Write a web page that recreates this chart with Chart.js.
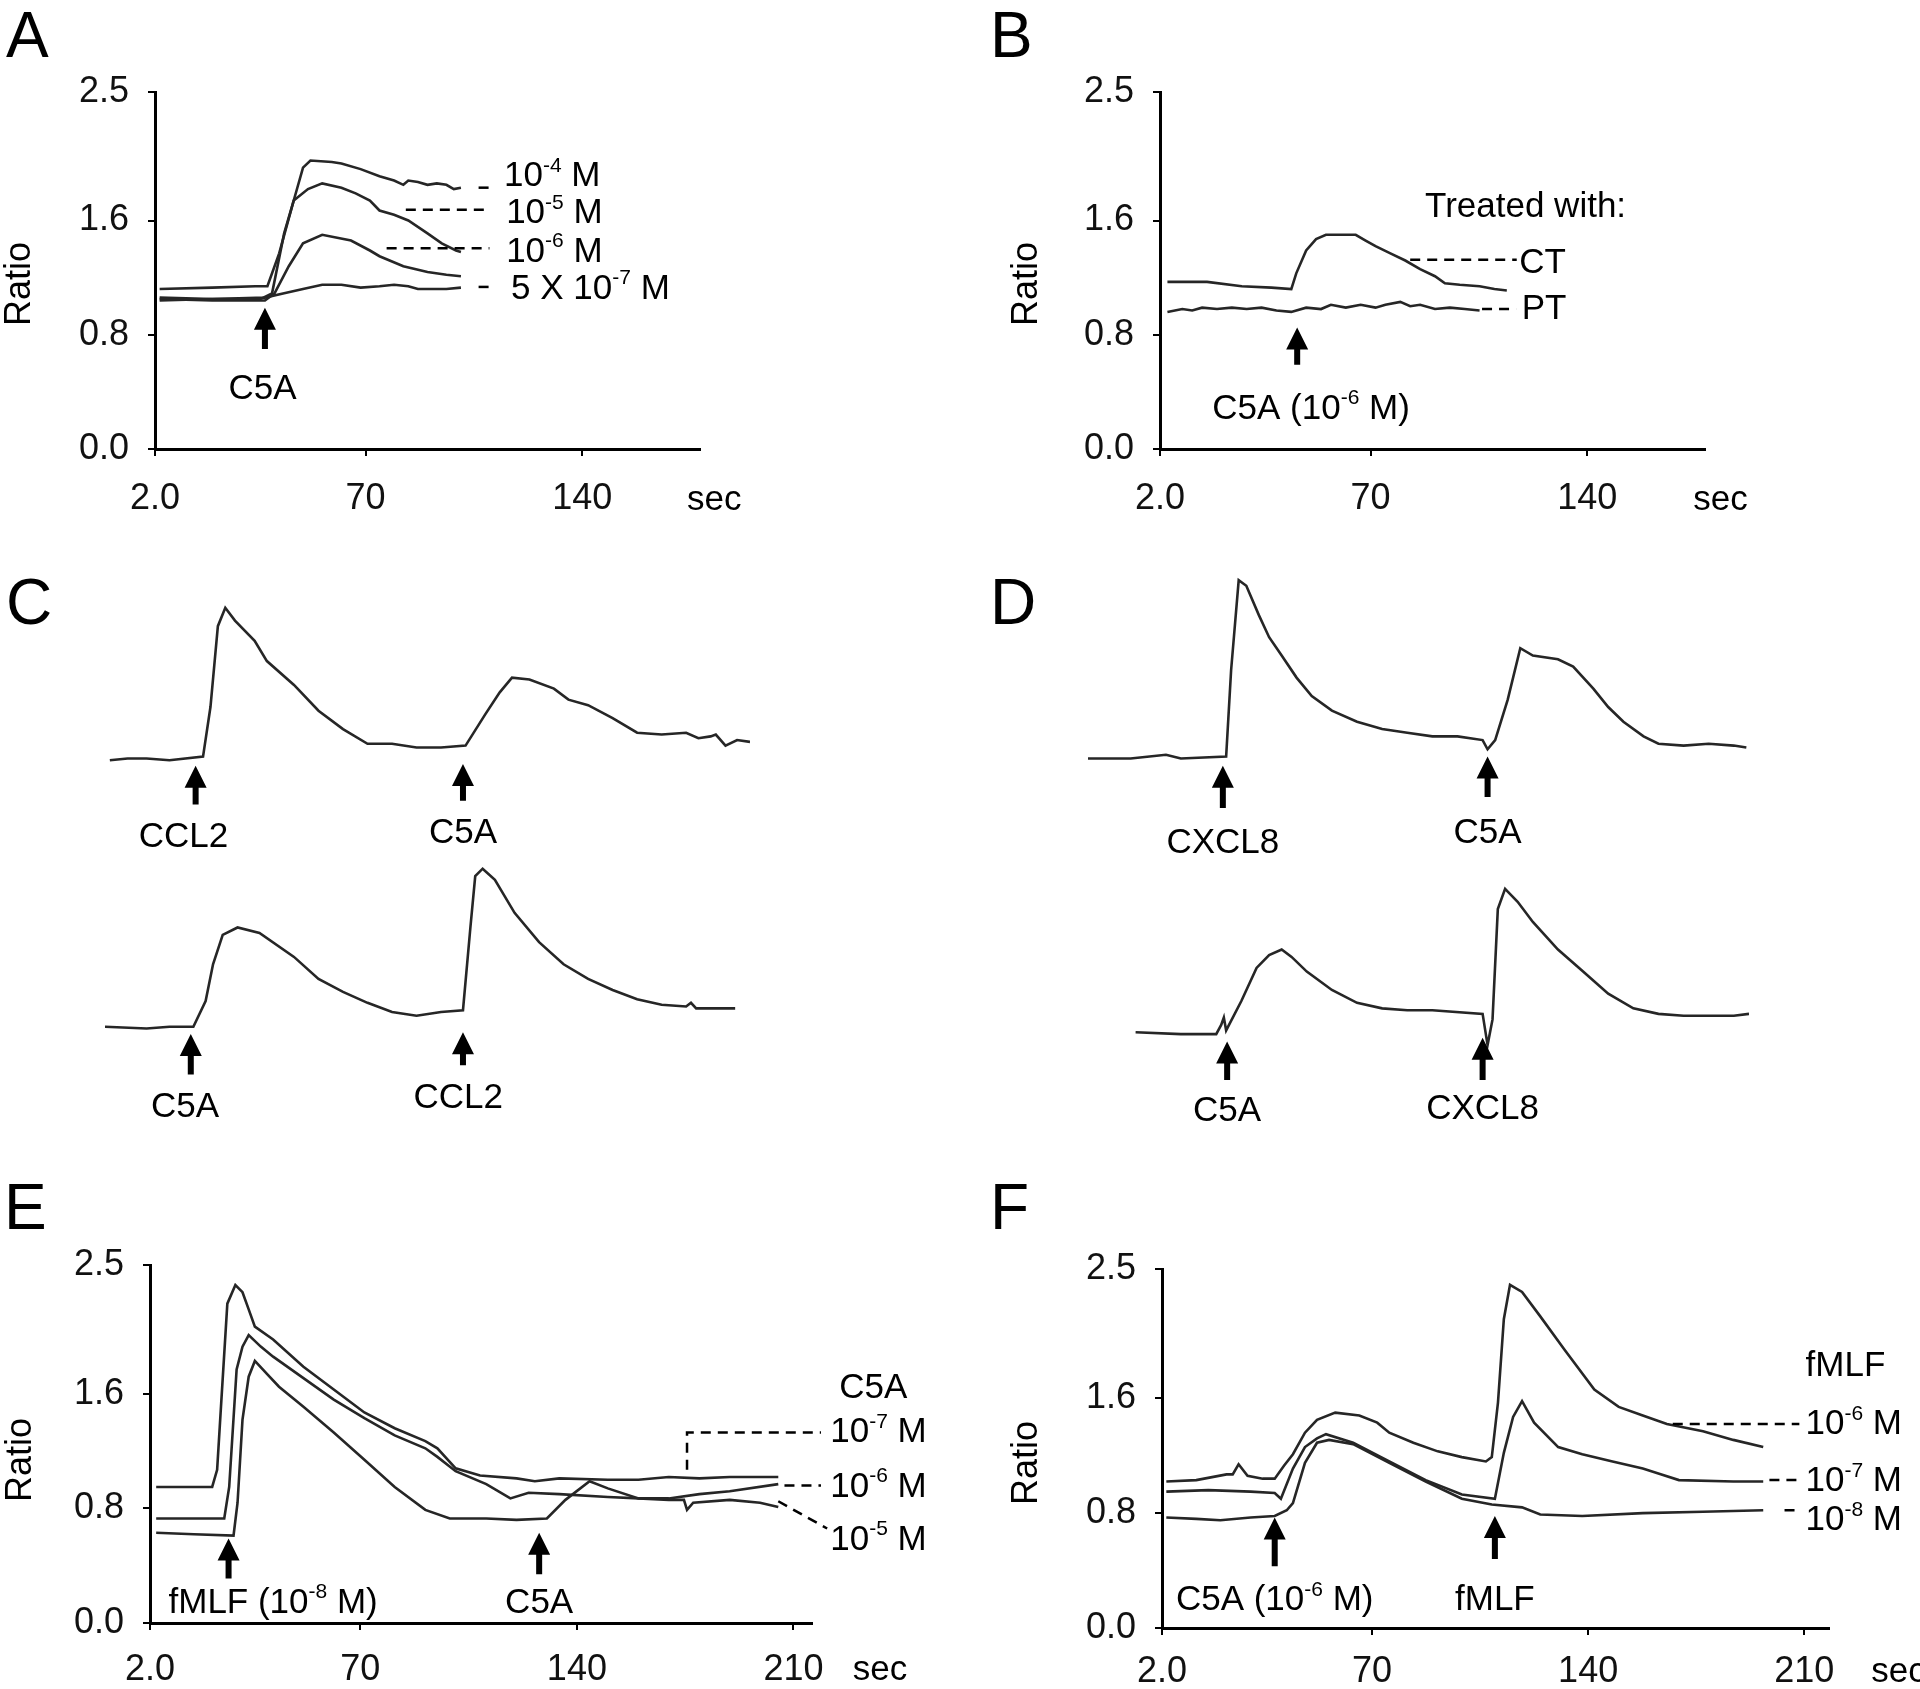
<!DOCTYPE html>
<html>
<head>
<meta charset="utf-8">
<script src="https://cdn.jsdelivr.net/npm/chart.js@4.4.1/dist/chart.umd.min.js"></script>
<style>
  html, body { margin: 0; padding: 0; background: #fff; }
  body { width: 1920px; height: 1689px; position: relative; overflow: hidden; }
  canvas { position: absolute; }
</style>
</head>
<body>
<canvas id="pA"></canvas>
<canvas id="pB"></canvas>
<canvas id="pC"></canvas>
<canvas id="pD"></canvas>
<canvas id="pE"></canvas>
<canvas id="pF"></canvas>
<script>
// ---- data: [time (sec), ratio] ----

// Panel A: C5A dose response
const A_1e4 = [[3.5,1.12],[20.5,1.13],[34.4,1.14],[38.3,1.14],[42.1,1.37],[46.8,1.74],[49.8,1.97],[52.2,2.02],[59.1,2.01],[62.2,2.00],[68.4,1.96],[74.5,1.91],[79.2,1.88],[82.2,1.85],[83.8,1.88],[86.9,1.87],[90,1.85],[93,1.86],[96.1,1.85],[98.5,1.82],[100.8,1.83]];
const A_1e5 = [[3.5,1.04],[20.5,1.05],[36,1.05],[39.8,1.09],[43.7,1.51],[46.8,1.74],[51.4,1.82],[56,1.86],[62.2,1.83],[66.8,1.79],[71.4,1.74],[74.5,1.67],[79.2,1.64],[83.8,1.6],[90,1.51],[94.6,1.44],[99.2,1.39],[100.8,1.38]];
const A_1e6 = [[3.5,1.05],[20.5,1.04],[37.5,1.04],[40.6,1.09],[45.2,1.28],[49.8,1.44],[56,1.5],[65.3,1.46],[71.4,1.39],[74.5,1.35],[82.2,1.28],[90,1.24],[96.1,1.22],[100.8,1.21]];
const A_5e7 = [[3.5,1.06],[20.5,1.05],[37.5,1.06],[43.7,1.09],[49.8,1.12],[56,1.15],[62.2,1.15],[68.4,1.13],[74.5,1.14],[79.2,1.15],[83.8,1.14],[86.9,1.12],[96.1,1.12],[100.8,1.13]];

// Panel B: CT vs PT treated cells, C5A 10^-6 M
const B_CT = [[4.4,1.17],[17.2,1.17],[28.4,1.14],[38,1.13],[44.4,1.12],[46,1.23],[49.2,1.39],[52.4,1.47],[55.6,1.5],[60.4,1.5],[65.2,1.5],[68.4,1.46],[71.6,1.42],[76.4,1.37],[81.2,1.32],[86,1.26],[90.8,1.21],[94,1.16],[98.8,1.15],[105.2,1.14],[110,1.12],[114,1.11]];
const B_PT = [[4.4,0.96],[9.2,0.98],[12.4,0.97],[15.6,0.99],[20.4,0.98],[25.2,0.99],[30,0.98],[34.8,0.99],[39.6,0.97],[44.4,0.96],[49.2,0.99],[54,0.98],[57.2,1.01],[62,0.99],[66.8,1.01],[71.6,0.99],[74.8,1.01],[79.6,1.03],[82.8,1.0],[86,1.01],[90.8,0.98],[95.6,0.99],[100.4,0.98],[105.2,0.97]];

// Panel C: CCL2 then C5A (top), C5A then CCL2 (bottom), arbitrary offset units
const C_top = [[1.5,2.11],[7,2.12],[12.9,2.12],[20,2.11],[30.4,2.13],[32.7,2.4],[35,2.84],[37.3,2.94],[40.3,2.87],[46.4,2.76],[50.2,2.65],[58.6,2.52],[66.2,2.38],[73.8,2.28],[81.4,2.2],[89,2.2],[96.6,2.18],[104.2,2.18],[111.8,2.19],[117.9,2.36],[122.4,2.48],[126.2,2.56],[131.6,2.55],[139.2,2.5],[143.7,2.44],[149.8,2.41],[157.4,2.34],[165,2.26],[172.6,2.25],[180.2,2.26],[184,2.23],[187.8,2.24],[189.4,2.25],[192.4,2.19],[196,2.22],[200,2.21]];
const C_bottom = [[0,0.66],[12.9,0.65],[20,0.66],[27.4,0.66],[31.2,0.8],[33.5,1.0],[36.5,1.16],[41.1,1.2],[47.9,1.17],[58.6,1.04],[66.2,0.92],[73.8,0.85],[81.4,0.79],[89,0.74],[96.6,0.72],[104.2,0.74],[111,0.75],[113.3,1.2],[114.8,1.48],[117.1,1.52],[120.9,1.46],[127,1.28],[134.6,1.12],[142.2,1.0],[149.8,0.92],[157.4,0.86],[165,0.81],[172.6,0.78],[180.2,0.77],[181.7,0.79],[183.3,0.76],[195.4,0.76]];

// Panel D: CXCL8 then C5A (top), C5A then CXCL8 (bottom)
const D_top = [[0,2.12],[12.9,2.12],[23.6,2.14],[28.1,2.12],[41.8,2.13],[43.3,2.6],[45.6,3.09],[47.9,3.06],[51.7,2.9],[54.8,2.78],[58.6,2.68],[63.1,2.56],[67.7,2.46],[73.8,2.38],[81.4,2.32],[89,2.28],[96.6,2.26],[104.2,2.24],[111.8,2.24],[119.4,2.22],[120.9,2.17],[123.2,2.22],[127,2.44],[130.8,2.72],[134.6,2.68],[142.2,2.66],[146.8,2.62],[152.9,2.5],[157.4,2.4],[162,2.32],[168.1,2.24],[172.6,2.2],[180.2,2.19],[187.8,2.2],[195.4,2.19],[199.2,2.18]];
const D_bottom = [[14.4,0.63],[28.1,0.62],[38.8,0.62],[40.3,0.67],[41.1,0.71],[41.8,0.64],[46.4,0.8],[51,0.98],[54.8,1.05],[58.6,1.08],[61.6,1.04],[66.2,0.96],[73.8,0.86],[81.4,0.79],[89,0.76],[96.6,0.75],[104.2,0.75],[119.4,0.73],[120.9,0.56],[122.4,0.7],[124,1.3],[126.2,1.41],[130,1.34],[134.6,1.23],[142.2,1.08],[149.8,0.96],[157.4,0.84],[165,0.76],[172.6,0.73],[180.2,0.72],[187.8,0.72],[195.4,0.72],[200,0.73]];

// Panel E: fMLF (10^-8 M) then C5A at three doses
const E_1e7 = [[4,0.95],[12.2,0.95],[22.1,0.95],[23.7,1.07],[25,1.53],[27,2.23],[29.6,2.36],[31.9,2.31],[33.9,2.19],[35.9,2.07],[41.8,1.98],[51.6,1.79],[61.4,1.63],[71.3,1.47],[81.1,1.36],[91,1.27],[94.9,1.22],[100.8,1.08],[108.7,1.03],[120.5,1.01],[126.4,0.99],[134.3,1.01],[150,1.0],[159.9,1.0],[169.7,1.02],[179.6,1.01],[189.4,1.02],[205.1,1.02]];
const E_1e6 = [[4,0.73],[12.2,0.73],[26,0.73],[27.6,0.95],[30,1.77],[31.9,1.93],[33.9,2.01],[37.8,1.93],[41.8,1.86],[51.6,1.71],[61.4,1.56],[71.3,1.43],[81.1,1.31],[91,1.22],[94.9,1.16],[100.8,1.06],[110.7,0.97],[118.5,0.87],[124.4,0.91],[134.3,0.9],[150,0.88],[159.9,0.87],[169.7,0.87],[179.6,0.9],[189.4,0.92],[205.1,0.97]];
const E_1e5 = [[4,0.63],[16.2,0.62],[29,0.61],[30.3,0.84],[31.9,1.42],[33.9,1.72],[35.9,1.83],[39.8,1.74],[43.7,1.65],[51.6,1.51],[61.4,1.33],[71.3,1.14],[81.1,0.95],[91,0.79],[98.9,0.73],[110.7,0.73],[120.5,0.72],[130.3,0.73],[136.3,0.86],[144.1,0.99],[150,0.94],[159.9,0.87],[169.7,0.86],[174.6,0.86],[175.6,0.79],[177.6,0.84],[189.4,0.86],[199.2,0.84],[205.1,0.81]];

// Panel F: C5A (10^-6 M) then fMLF at three doses
const F_1e6 = [[3.4,1.02],[13.1,1.03],[22.9,1.07],[24.9,1.07],[26.8,1.14],[29.7,1.06],[34.6,1.04],[38.5,1.04],[41.5,1.13],[44.4,1.21],[48.3,1.36],[52.2,1.45],[58.1,1.5],[65.9,1.48],[71.7,1.43],[75.6,1.36],[83.4,1.29],[91.3,1.23],[99.1,1.19],[106.9,1.16],[108.8,1.19],[110.8,1.57],[112.7,2.15],[114.7,2.39],[118.6,2.34],[124.5,2.17],[132.3,1.94],[142,1.66],[149.9,1.54],[157.7,1.48],[165.5,1.42],[177.2,1.37],[187,1.31],[196.7,1.26]];
const F_1e7 = [[3.4,0.95],[17,0.96],[30.7,0.95],[38.5,0.94],[40.5,0.9],[44.4,1.11],[48.3,1.26],[52.2,1.32],[55.1,1.35],[63.9,1.29],[75.6,1.16],[87.4,1.03],[99.1,0.93],[109.8,0.9],[112.7,1.22],[115.7,1.47],[118.6,1.58],[122.5,1.43],[130.3,1.26],[138.1,1.21],[147.9,1.16],[157.7,1.11],[163.5,1.07],[169.4,1.03],[187,1.02],[196.7,1.02]];
const F_1e8 = [[3.4,0.77],[13.1,0.76],[20.9,0.75],[30.7,0.77],[38.5,0.78],[42.4,0.82],[44.4,0.87],[48.3,1.15],[52.2,1.29],[56.1,1.31],[63.9,1.28],[75.6,1.15],[87.4,1.02],[99.1,0.9],[108.8,0.86],[118.6,0.84],[124.5,0.79],[138.1,0.78],[157.7,0.8],[177.2,0.81],[196.7,0.82]];

// axis ticks
const ratioTicks = [0, 0.8, 1.6, 2.5];
const secTicksShort = [2, 70, 140];
const secTicksLong = [2, 70, 140, 210];

// ---- drawing helpers ----
const SANS = "'Liberation Sans', Arial, Helvetica, sans-serif";
const INK = '#000';
const TRACE = '#262626';

function drawRich(ctx, text, x, y, align, size) {
  const parts = [];
  const re = /\^\{([^}]*)\}/g;
  let last = 0, m;
  while ((m = re.exec(text))) {
    if (m.index > last) parts.push([text.slice(last, m.index), 0]);
    parts.push([m[1], 1]);
    last = re.lastIndex;
  }
  if (last < text.length) parts.push([text.slice(last), 0]);
  const fontFor = s => (s ? Math.round(size * 0.6) : size) + 'px ' + SANS;
  let w = 0;
  parts.forEach(p => { ctx.font = fontFor(p[1]); p.push(ctx.measureText(p[0]).width); w += p[2]; });
  let cx = align === 'center' ? x - w / 2 : x;
  ctx.textAlign = 'left';
  ctx.textBaseline = 'middle';
  parts.forEach(p => {
    ctx.font = fontFor(p[1]);
    ctx.fillText(p[0], cx, p[1] ? y - size * 0.3 : y);
    cx += p[2];
  });
}

function drawArrow(ctx, x, yTip, yTail) {
  const hl = 22, hw = 11, sw = 3;
  ctx.beginPath();
  ctx.moveTo(x, yTip);
  ctx.lineTo(x + hw, yTip + hl);
  ctx.lineTo(x + sw, yTip + hl);
  ctx.lineTo(x + sw, yTail);
  ctx.lineTo(x - sw, yTail);
  ctx.lineTo(x - sw, yTip + hl);
  ctx.lineTo(x - hw, yTip + hl);
  ctx.closePath();
  ctx.fill();
}

function annotator(cfg, box) {
  return {
    id: 'annotate',
    afterDraw(chart) {
      const ctx = chart.ctx;
      const X = v => chart.scales.x.getPixelForValue(v);
      const Y = v => chart.scales.y.getPixelForValue(v);
      ctx.save();
      ctx.fillStyle = INK;
      ctx.strokeStyle = INK;
      // dashed leader lines to the labels
      ctx.lineWidth = 2.5;
      ctx.setLineDash([10, 7]);
      (cfg.dashes || []).forEach(d => {
        ctx.beginPath();
        d.forEach((p, i) => i ? ctx.lineTo(X(p[0]), Y(p[1])) : ctx.moveTo(X(p[0]), Y(p[1])));
        ctx.stroke();
      });
      ctx.setLineDash([]);
      (cfg.arrows || []).forEach(a => drawArrow(ctx, X(a.x), Y(a.tip), Y(a.tail)));
      (cfg.labels || []).forEach(l => drawRich(ctx, l.t, X(l.x), Y(l.y), l.align || 'left', 35));
      if (cfg.sec) drawRich(ctx, 'sec', X(cfg.sec[0]), cfg.sec[1] - box.y, 'center', 35);
      if (cfg.ratio) {
        ctx.save();
        ctx.translate(cfg.ratio[0] - box.x, cfg.ratio[1] - box.y);
        ctx.rotate(-Math.PI / 2);
        drawRich(ctx, 'Ratio', 0, 0, 'center', 36);
        ctx.restore();
      }
      ctx.font = '64px ' + SANS;
      ctx.textAlign = 'left';
      ctx.textBaseline = 'alphabetic';
      ctx.fillText(cfg.letter, cfg.letterAt[0] - box.x, cfg.letterAt[1] - box.y);
      ctx.restore();
    }
  };
}

function panel(id, box, area, cfg) {
  const cv = document.getElementById(id);
  cv.width = box.w; cv.height = box.h;
  Object.assign(cv.style, { left: box.x + 'px', top: box.y + 'px', width: box.w + 'px', height: box.h + 'px' });
  const axes = cfg.axes !== false;
  const tickFont = { family: SANS, size: 36 };
  const padding = axes
    ? { left: 0, top: area.t - box.y, right: box.x + box.w - area.r, bottom: 0 }
    : { left: area.l - box.x, top: area.t - box.y, right: box.x + box.w - area.r, bottom: box.y + box.h - area.b };

  new Chart(cv, {
    type: 'line',
    data: {
      datasets: cfg.series.map(s => ({
        data: s.map(p => ({ x: p[0], y: p[1] })),
        borderColor: TRACE,
        borderWidth: 2.6,
        pointRadius: 0,
        tension: 0,
        fill: false
      }))
    },
    options: {
      responsive: false,
      animation: false,
      devicePixelRatio: 1,
      layout: { padding: padding },
      plugins: { legend: { display: false }, tooltip: { enabled: false } },
      scales: {
        x: {
          type: 'linear',
          display: axes,
          min: cfg.xr[0],
          max: cfg.xr[1],
          afterBuildTicks: s => { if (cfg.xt) s.ticks = cfg.xt.map(v => ({ value: v })); },
          afterFit: s => { if (axes) s.height = box.y + box.h - area.b; },
          ticks: {
            font: tickFont, color: '#111', padding: cfg.xPad || 22,
            maxRotation: 0, autoSkip: false,
            callback: v => v === 2 ? '2.0' : String(v)
          },
          grid: { drawOnChartArea: false, drawTicks: true, tickLength: 7, color: INK, lineWidth: 2 },
          border: { display: true, color: INK, width: 3 }
        },
        y: {
          display: axes,
          min: cfg.yr[0],
          max: cfg.yr[1],
          afterBuildTicks: s => { s.ticks = ratioTicks.map(v => ({ value: v })); },
          afterFit: s => { if (axes) s.width = area.l - box.x; },
          ticks: { font: tickFont, color: '#111', padding: 19, callback: v => v.toFixed(1) },
          grid: { drawOnChartArea: false, drawTicks: true, tickLength: 7, color: INK, lineWidth: 2 },
          border: { display: true, color: INK, width: 3 }
        }
      }
    },
    plugins: [annotator(cfg, box)]
  });
}

// ---- panels ----
panel('pA', { x: 0, y: 0, w: 975, h: 560 }, { l: 155, r: 700, t: 92, b: 449 }, {
  letter: 'A', letterAt: [6, 57], ratio: [20, 284], sec: [182.6, 500],
  xr: [2, 178], yr: [0, 2.5], xt: secTicksShort, xPad: 21,
  series: [A_1e4, A_1e5, A_1e6, A_5e7],
  dashes: [[[106.5, 1.83], [110, 1.83]], [[83, 1.675], [110, 1.675]], [[76.8, 1.405], [110, 1.405]], [[106.5, 1.135], [110, 1.135]]],
  labels: [
    { x: 114.7, y: 1.91, t: '10^{-4} M' },
    { x: 115.4, y: 1.65, t: '10^{-5} M' },
    { x: 115.4, y: 1.38, t: '10^{-6} M' },
    { x: 117, y: 1.12, t: '5 X 10^{-7} M' },
    { x: 36.7, y: 0.415, t: 'C5A', align: 'center' }
  ],
  arrows: [{ x: 37.5, tip: 0.99, tail: 0.7 }]
});

panel('pB', { x: 975, y: 0, w: 945, h: 560 }, { l: 1160, r: 1705, t: 92, b: 449 }, {
  letter: 'B', letterAt: [990, 57], ratio: [1027, 284], sec: [183, 500],
  xr: [2, 178], yr: [0, 2.5], xt: secTicksShort, xPad: 21,
  series: [B_CT, B_PT],
  dashes: [[[82.8, 1.325], [117.2, 1.325]], [[106, 0.98], [117, 0.98]]],
  labels: [
    { x: 87.6, y: 1.69, t: 'Treated with:' },
    { x: 118, y: 1.3, t: 'CT' },
    { x: 118.8, y: 0.975, t: 'PT' },
    { x: 50.8, y: 0.28, t: 'C5A (10^{-6} M)', align: 'center' }
  ],
  arrows: [{ x: 46.3, tip: 0.85, tail: 0.59 }]
});

panel('pC', { x: 0, y: 540, w: 960, h: 620 }, { l: 105, r: 750, t: 560, b: 1148 }, {
  letter: 'C', letterAt: [6, 624], axes: false,
  xr: [0, 200], yr: [0, 3.2],
  series: [C_top, C_bottom],
  labels: [
    { x: 24.3, y: 1.69, t: 'CCL2', align: 'center' },
    { x: 111, y: 1.71, t: 'C5A', align: 'center' },
    { x: 24.8, y: 0.22, t: 'C5A', align: 'center' },
    { x: 109.5, y: 0.27, t: 'CCL2', align: 'center' }
  ],
  arrows: [{ x: 28.1, tip: 2.08, tail: 1.87 }, { x: 111, tip: 2.09, tail: 1.89 }, { x: 26.6, tip: 0.62, tail: 0.4 }, { x: 111, tip: 0.63, tail: 0.45 }]
});

panel('pD', { x: 960, y: 540, w: 960, h: 620 }, { l: 1088, r: 1749, t: 560, b: 1148 }, {
  letter: 'D', letterAt: [990, 624], axes: false,
  xr: [0, 200], yr: [0, 3.2],
  series: [D_top, D_bottom],
  labels: [
    { x: 40.8, y: 1.66, t: 'CXCL8', align: 'center' },
    { x: 120.9, y: 1.71, t: 'C5A', align: 'center' },
    { x: 42.1, y: 0.2, t: 'C5A', align: 'center' },
    { x: 119.4, y: 0.21, t: 'CXCL8', align: 'center' }
  ],
  arrows: [{ x: 40.8, tip: 2.08, tail: 1.85 }, { x: 120.9, tip: 2.13, tail: 1.91 }, { x: 42.1, tip: 0.58, tail: 0.37 }, { x: 119.4, tip: 0.6, tail: 0.37 }]
});

panel('pE', { x: 0, y: 1160, w: 975, h: 529 }, { l: 150, r: 812, t: 1265, b: 1623 }, {
  letter: 'E', letterAt: [4, 1229], ratio: [21, 1460], sec: [238, 1670],
  xr: [2, 216], yr: [0, 2.5], xt: secTicksLong, xPad: 18,
  series: [E_1e7, E_1e6, E_1e5],
  dashes: [[[175.6, 1.07], [175.6, 1.33], [218.9, 1.33]], [[207.1, 0.96], [218.9, 0.96]], [[205.1, 0.85], [220.9, 0.66]]],
  labels: [
    { x: 224.8, y: 1.64, t: 'C5A' },
    { x: 221.9, y: 1.33, t: '10^{-7} M' },
    { x: 221.9, y: 0.95, t: '10^{-6} M' },
    { x: 221.9, y: 0.58, t: '10^{-5} M' },
    { x: 41.8, y: 0.14, t: 'fMLF (10^{-8} M)', align: 'center' },
    { x: 127.8, y: 0.14, t: 'C5A', align: 'center' }
  ],
  arrows: [{ x: 27.4, tip: 0.59, tail: 0.31 }, { x: 127.8, tip: 0.63, tail: 0.34 }]
});

panel('pF', { x: 975, y: 1160, w: 945, h: 529 }, { l: 1162, r: 1829, t: 1269, b: 1628 }, {
  letter: 'F', letterAt: [990, 1229], ratio: [1027, 1463], sec: [240.5, 1672],
  xr: [2, 218], yr: [0, 2.5], xt: secTicksLong, xPad: 15,
  series: [F_1e6, F_1e7, F_1e8],
  dashes: [[[167.4, 1.42], [208.4, 1.42]], [[198.7, 1.03], [208.4, 1.03]], [[203.6, 0.82], [207.5, 0.82]]],
  labels: [
    { x: 210.4, y: 1.82, t: 'fMLF' },
    { x: 210.4, y: 1.415, t: '10^{-6} M' },
    { x: 210.4, y: 1.02, t: '10^{-7} M' },
    { x: 210.4, y: 0.75, t: '10^{-8} M' },
    { x: 38.5, y: 0.19, t: 'C5A (10^{-6} M)', align: 'center' },
    { x: 109.8, y: 0.19, t: 'fMLF', align: 'center' }
  ],
  arrows: [{ x: 38.5, tip: 0.77, tail: 0.43 }, { x: 109.8, tip: 0.78, tail: 0.48 }]
});
</script>
</body>
</html>
